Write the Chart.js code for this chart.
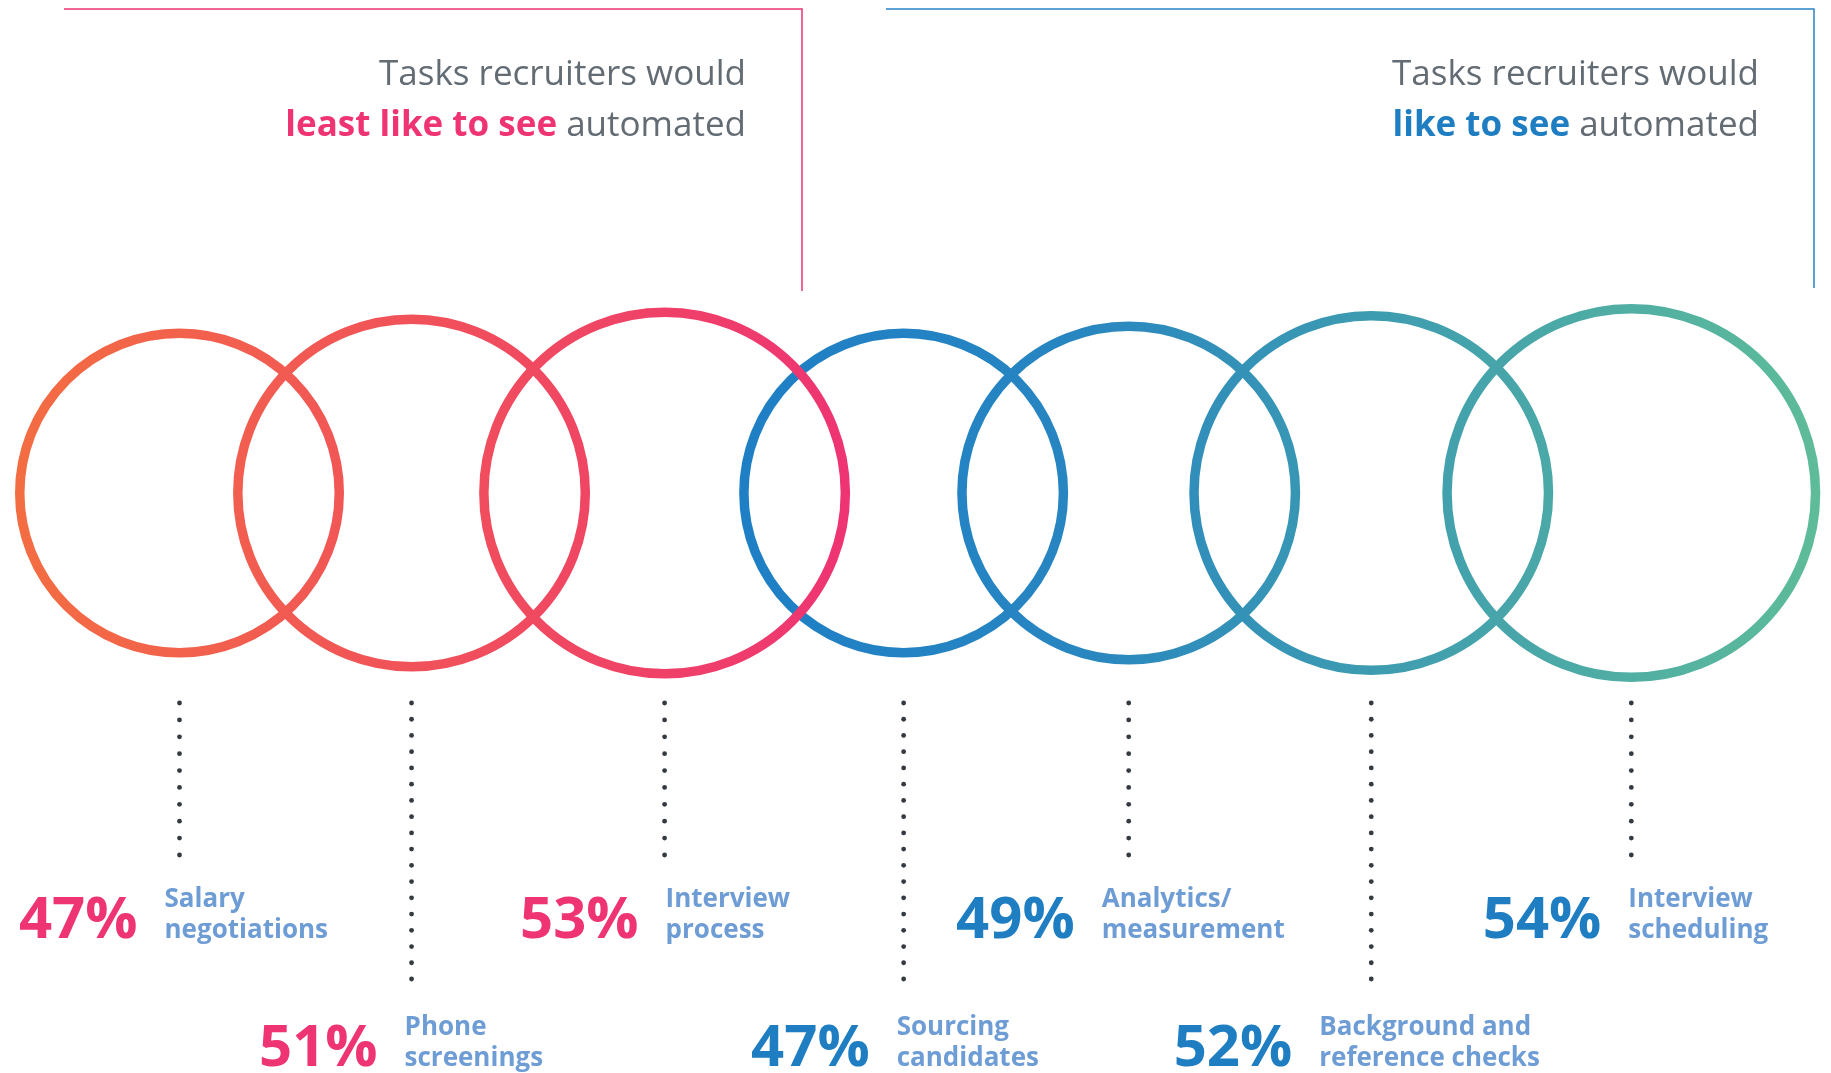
<!DOCTYPE html>
<html>
<head>
<meta charset="utf-8">
<script src="https://cdn.jsdelivr.net/npm/chart.js@4.4.1/dist/chart.umd.min.js"></script>
<style>
  html, body { margin: 0; padding: 0; background: #fff; }
  #wrap { position: relative; width: 1831px; height: 1073px; }
</style>
</head>
<body>
<div id="wrap"><canvas id="circles"></canvas></div>
<script>
// data
const tasks = [
    ['Salary', 'negotiations'],
    ['Phone', 'screenings'],
    ['Interview', 'process'],
    ['Sourcing', 'candidates'],
    ['Analytics/', 'measurement'],
    ['Background and', 'reference checks'],
    ['Interview', 'scheduling']
];
const shares = [47, 51, 53, 47, 49, 52, 54];
const groups = ['least', 'least', 'least', 'like', 'like', 'like', 'like'];
const groupTitles = {
    least: ['Tasks recruiters would', 'least like to see', ' automated'],
    like: ['Tasks recruiters would', 'like to see', ' automated']
};

// layout
const PX = 3.5;          // px per percentage point
const OVERLAP = 31.7;    // how much neighbouring circles overlap (same units)
const LEFT = 15;
const W = 1831, H = 1073, CY = 493;
const RING = 9.5;
const labelShift = [-15, -7, 1, -7, -27, -52, -3];
const pinkDark = '#EE3473', blueDark = '#1F7EC2';

// circle centres chained from the radii
const centres = [];
shares.forEach((v, i) => {
    if (i === 0) centres.push(v);
    else centres.push(centres[i - 1] + shares[i - 1] + v - OVERLAP);
});

function pointsFor(g) {
    const out = [];
    shares.forEach((v, i) => { if (groups[i] === g) out.push({ x: centres[i], y: 0, i: i }); });
    return out;
}

function unit(chart) {
    const xs = chart.scales.x;
    if (!xs) return PX;
    const u = Math.abs(xs.getPixelForValue(1) - xs.getPixelForValue(0));
    return isFinite(u) && u > 0 ? u : PX;
}

function groupGradient(ctx, g) {
    const chart = ctx.chart;
    const xs = chart.scales.x;
    const solid = g === 'least' ? '#F0505F' : '#2E8CC0';
    if (!xs) return solid;
    const idx = shares.map((v, i) => i).filter(i => groups[i] === g);
    const a = idx[0], b = idx[idx.length - 1];
    const x0 = xs.getPixelForValue(centres[a] - shares[a]);
    const x1 = xs.getPixelForValue(centres[b] + shares[b]);
    if (!isFinite(x0) || !isFinite(x1) || x0 === x1) return solid;
    const grad = chart.ctx.createLinearGradient(x0, 0, x1, 0);
    if (g === 'least') {
        grad.addColorStop(0, '#F36D42');
        grad.addColorStop(1, '#EE3473');
    } else {
        grad.addColorStop(0, '#1E7FC5');
        grad.addColorStop(0.3, '#2785C1');
        grad.addColorStop(1, '#5EBC99');
    }
    return grad;
}

const textPlugin = {
    id: 'textPlugin',
    afterDraw(chart) {
        const ctx = chart.ctx;
        ctx.save();

        // header frames
        ctx.lineWidth = 1.5;
        ctx.strokeStyle = '#EE3473';
        ctx.beginPath(); ctx.moveTo(64, 9); ctx.lineTo(802, 9); ctx.lineTo(802, 291); ctx.stroke();
        ctx.strokeStyle = '#2A83C6';
        ctx.beginPath(); ctx.moveTo(886, 9); ctx.lineTo(1814, 9); ctx.lineTo(1814, 288); ctx.stroke();

        // header text
        const heads = [['least', 746, pinkDark], ['like', 1759, blueDark]];
        heads.forEach(h => {
            const t = groupTitles[h[0]];
            ctx.textAlign = 'right';
            ctx.textBaseline = 'alphabetic';
            ctx.fillStyle = '#636B73';
            ctx.font = '400 35px "Open Sans"';
            ctx.fillText(t[0], h[1], 85);
            const w = ctx.measureText(t[2]).width;
            ctx.fillText(t[2], h[1], 136);
            ctx.font = '700 35px "Open Sans"';
            ctx.fillStyle = h[2];
            ctx.fillText(t[1], h[1] - w, 136);
        });

        // dotted leaders and labels
        const pos = [];
        chart.data.datasets.forEach((ds, d) => {
            chart.getDatasetMeta(d).data.forEach((el, j) => { pos[ds.data[j].i] = el.x; });
        });
        pos.forEach((x, i) => {
            const top = i % 2 === 0;
            const y0 = 703, y1 = top ? 855 : 979;
            const n = Math.round((y1 - y0) / 16.5) + 1;
            ctx.fillStyle = '#333A42';
            for (let k = 0; k < n; k++) {
                ctx.beginPath();
                ctx.arc(x, y0 + k * (y1 - y0) / (n - 1), 2.4, 0, Math.PI * 2);
                ctx.fill();
            }
            const base = top ? 938 : 1066;
            const lx = x + labelShift[i];
            ctx.textBaseline = 'alphabetic';
            ctx.textAlign = 'right';
            ctx.font = '700 58px "Open Sans"';
            ctx.fillStyle = groups[i] === 'least' ? pinkDark : blueDark;
            ctx.fillText(shares[i] + '%', lx - 27, base);
            ctx.textAlign = 'left';
            ctx.font = '700 26px "Open Sans"';
            ctx.fillStyle = '#6E9CD5';
            ctx.fillText(tasks[i][0], lx, base - 31);
            ctx.fillText(tasks[i][1], lx, base);
        });
        ctx.restore();
    }
};

const circleSet = (g, label) => ({
    label: label,
    data: pointsFor(g),
    clip: false,
    pointRadius: c => shares[c.raw.i] * unit(c.chart) - RING / 2,
    pointHoverRadius: c => shares[c.raw.i] * unit(c.chart) - RING / 2,
    pointBackgroundColor: 'rgba(0,0,0,0)',
    pointBorderWidth: RING,
    pointHoverBorderWidth: RING,
    pointBorderColor: c => groupGradient(c, g)
});

const canvas = document.getElementById('circles');
const chart = new Chart(canvas, {
    type: 'scatter',
    data: {
        datasets: [
            circleSet('least', 'least like to see automated'),
            circleSet('like', 'like to see automated')
        ]
    },
    options: {
        responsive: true,
        maintainAspectRatio: false,
        animation: false,
        layout: { padding: 0, autoPadding: false },
        events: [],
        scales: {
            x: { type: 'linear', display: false, min: -LEFT / PX, max: (W - LEFT) / PX },
            y: { type: 'linear', display: false, min: -(H - CY) / PX, max: CY / PX }
        },
        plugins: {
            legend: { display: false },
            tooltip: { enabled: false }
        }
    },
    plugins: [textPlugin]
});
</script>
</body>
</html>
